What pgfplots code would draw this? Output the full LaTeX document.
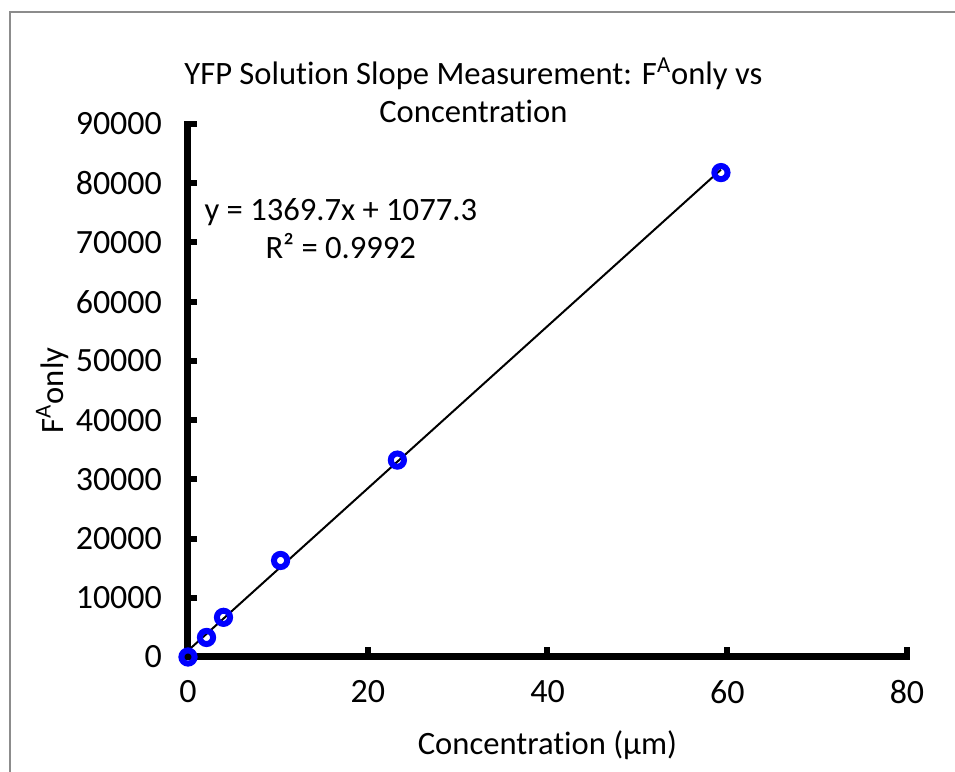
\documentclass[border=0pt]{standalone}
\usepackage{pgfplots}
\pgfplotsset{compat=1.18}
\usepackage{fontspec}
\setmainfont{Carlito}[Ligatures={NoCommon}]

\begin{document}
\begin{tikzpicture}[font=\fontsize{16.3pt}{19pt}\selectfont]
  % page area and the chart frame
  \useasboundingbox (-94pt,-57.5pt) rectangle (383.5pt,328.5pt);
  \draw[color=black!45, line width=1pt] (-89pt,-70pt) -- (-89pt,322.5pt) -- (400pt,322.5pt);

  \begin{axis}[
    at={(0pt,0pt)}, anchor=south west,
    scale only axis,
    width=359.5pt, height=266.5pt,
    xmin=0, xmax=80, ymin=0, ymax=90000,
    xtick={0,20,40,60,80},
    ytick={0,10000,20000,30000,40000,50000,60000,70000,80000,90000},
    scaled y ticks=false,
    /pgf/number format/assume math mode=true,
    /pgf/number format/set thousands separator={},
    axis lines=left,
    axis line style={-, line width=3.5pt, line cap=rect},
    tick align=inside,
    major tick length=4.75pt,
    tick style={line width=3pt, black},
    ticklabel style={font=\fontsize{17pt}{19pt}\selectfont},
    yticklabel shift=9.5pt,
    xticklabel shift=8pt,
    clip=false,
    title={YFP Solution Slope Measurement: F\textsuperscript{A}only vs\\Concentration},
    title style={at={(axis description cs:0.397,1.041)}, anchor=center, align=center, inner sep=0pt},
    xlabel={Concentration (µm)},
    xlabel style={at={(axis description cs:0.5,-0.165)}, anchor=center, inner sep=0pt},
    ylabel={F\textsuperscript{A}only},
    ylabel style={at={(axis description cs:-0.189,0.5)}, anchor=center, rotate=0, inner sep=0pt},
  ]
    % measured F^A_only values
    \addplot[only marks, mark=o, mark size=3.3pt,
             mark options={draw=blue, line width=3pt}]
      coordinates {
        (0,0)
        (2.06,3300)
        (3.95,6700)
        (10.3,16300)
        (23.3,33250)
        (59.3,81800)
      };
    % linear trendline y = 1369.7x + 1077.3
    \addplot[black, line width=1pt] coordinates {(0,1077.3) (59.3,82300.5)};
    \node[anchor=center, align=center, inner sep=0pt] at (axis cs:17.0,72400)
      {y = 1369.7x + 1077.3\\R² = 0.9992};
  \end{axis}
\end{tikzpicture}
\end{document}
